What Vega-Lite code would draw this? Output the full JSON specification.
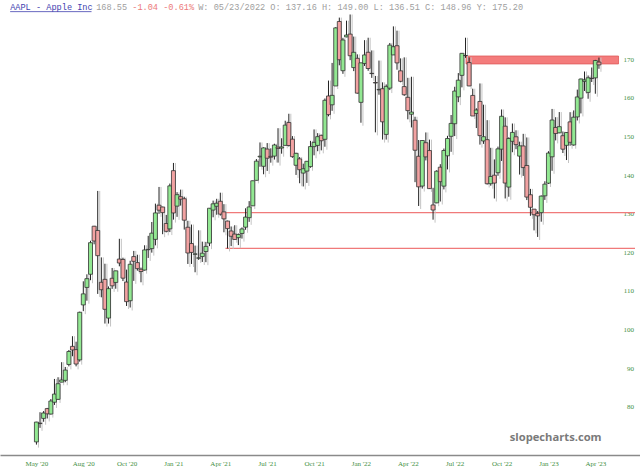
{
  "$schema": "https://vega.github.io/schema/vega-lite/v6.json",
  "width": 640,
  "height": 455,
  "autosize": "none",
  "padding": {"left": 0, "top": 0, "right": 0, "bottom": 15},
  "background": "white",
  "config": {"view": {"stroke": null}, "axis": {"grid": false}},
  "datasets": {
    "candles": [
      {"d":"2020-05-04","o":70.88,"h":76.08,"l":70.18,"c":76.02},
      {"d":"2020-05-11","o":75.74,"h":78.57,"l":74.52,"c":75.63},
      {"d":"2020-05-18","o":76.97,"h":78.87,"l":76.10,"c":78.37},
      {"d":"2020-05-25","o":79.51,"h":79.69,"l":76.95,"c":78.15},
      {"d":"2020-06-01","o":78.10,"h":81.99,"l":77.96,"c":81.48},
      {"d":"2020-06-08","o":81.16,"h":87.19,"l":80.45,"c":83.27},
      {"d":"2020-06-15","o":81.90,"h":87.63,"l":81.75,"c":85.95},
      {"d":"2020-06-22","o":86.36,"h":91.53,"l":86.34,"c":86.92},
      {"d":"2020-06-29","o":86.82,"h":90.29,"l":86.34,"c":89.49},
      {"d":"2020-07-06","o":90.94,"h":94.69,"l":90.45,"c":94.30},
      {"d":"2020-07-13","o":95.63,"h":98.26,"l":93.07,"c":94.70},
      {"d":"2020-07-20","o":94.79,"h":96.84,"l":90.45,"c":91.06},
      {"d":"2020-07-27","o":92.13,"h":104.62,"l":91.67,"c":104.46},
      {"d":"2020-08-03","o":106.37,"h":112.48,"l":104.75,"c":109.23},
      {"d":"2020-08-10","o":110.90,"h":114.29,"l":107.46,"c":113.17},
      {"d":"2020-08-17","o":114.31,"h":122.99,"l":112.77,"c":122.49},
      {"d":"2020-08-24","o":126.76,"h":126.85,"l":122.07,"c":122.93},
      {"d":"2020-08-31","o":125.65,"h":135.90,"l":109.22,"c":119.13},
      {"d":"2020-09-07","o":112.23,"h":118.68,"l":108.34,"c":110.31},
      {"d":"2020-09-14","o":112.99,"h":117.04,"l":101.54,"c":105.23},
      {"d":"2020-09-21","o":102.96,"h":111.16,"l":101.54,"c":110.58},
      {"d":"2020-09-28","o":113.27,"h":115.94,"l":110.53,"c":111.31},
      {"d":"2020-10-05","o":112.19,"h":115.23,"l":110.56,"c":115.20},
      {"d":"2020-10-12","o":118.25,"h":123.50,"l":116.37,"c":117.22},
      {"d":"2020-10-19","o":118.15,"h":118.60,"l":112.55,"c":113.30},
      {"d":"2020-10-26","o":112.29,"h":115.51,"l":106.09,"c":107.22},
      {"d":"2020-11-02","o":107.46,"h":117.81,"l":105.70,"c":116.90},
      {"d":"2020-11-09","o":118.89,"h":120.36,"l":112.60,"c":117.66},
      {"d":"2020-11-16","o":117.33,"h":119.37,"l":115.25,"c":115.77},
      {"d":"2020-11-23","o":115.61,"h":116.04,"l":112.23,"c":115.03},
      {"d":"2020-11-30","o":115.40,"h":121.82,"l":115.25,"c":120.61},
      {"d":"2020-12-07","o":120.67,"h":124.26,"l":118.54,"c":120.77},
      {"d":"2020-12-14","o":120.96,"h":127.85,"l":119.91,"c":124.96},
      {"d":"2020-12-21","o":123.35,"h":132.61,"l":121.80,"c":130.20},
      {"d":"2020-12-28","o":132.20,"h":136.93,"l":129.96,"c":130.91},
      {"d":"2021-01-04","o":131.73,"h":131.82,"l":124.69,"c":130.28},
      {"d":"2021-01-11","o":127.46,"h":129.69,"l":125.16,"c":125.44},
      {"d":"2021-01-18","o":126.07,"h":137.80,"l":125.24,"c":137.21},
      {"d":"2021-01-25","o":141.15,"h":143.15,"l":128.47,"c":130.19},
      {"d":"2021-02-01","o":131.96,"h":135.58,"l":129.18,"c":134.93},
      {"d":"2021-02-08","o":134.41,"h":136.24,"l":132.10,"c":133.76},
      {"d":"2021-02-15","o":133.88,"h":134.39,"l":125.89,"c":128.32},
      {"d":"2021-02-22","o":126.49,"h":128.17,"l":116.98,"c":119.82},
      {"d":"2021-03-01","o":122.27,"h":127.19,"l":116.98,"c":119.97},
      {"d":"2021-03-08","o":119.49,"h":121.74,"l":114.83,"c":119.59},
      {"d":"2021-03-15","o":118.47,"h":125.70,"l":118.03,"c":118.56},
      {"d":"2021-03-22","o":118.90,"h":122.76,"l":117.50,"c":119.77},
      {"d":"2021-03-29","o":120.20,"h":122.70,"l":117.44,"c":121.53},
      {"d":"2021-04-05","o":122.39,"h":131.46,"l":121.60,"c":131.42},
      {"d":"2021-04-12","o":130.94,"h":133.39,"l":129.07,"c":132.56},
      {"d":"2021-04-19","o":131.92,"h":133.86,"l":129.73,"c":132.72},
      {"d":"2021-04-26","o":133.22,"h":135.44,"l":129.51,"c":129.89},
      {"d":"2021-05-03","o":130.47,"h":132.47,"l":125.19,"c":128.66},
      {"d":"2021-05-10","o":128.09,"h":128.21,"l":121.00,"c":126.14},
      {"d":"2021-05-17","o":125.52,"h":126.69,"l":121.60,"c":124.15},
      {"d":"2021-05-24","o":124.72,"h":127.01,"l":123.27,"c":123.33},
      {"d":"2021-05-31","o":123.80,"h":124.87,"l":121.87,"c":124.60},
      {"d":"2021-06-07","o":124.88,"h":126.44,"l":123.55,"c":126.05},
      {"d":"2021-06-14","o":126.51,"h":131.40,"l":125.83,"c":129.12},
      {"d":"2021-06-21","o":128.97,"h":133.26,"l":127.89,"c":131.75},
      {"d":"2021-06-28","o":132.04,"h":138.57,"l":131.98,"c":138.53},
      {"d":"2021-07-05","o":138.64,"h":144.16,"l":138.64,"c":143.62},
      {"d":"2021-07-12","o":144.71,"h":148.46,"l":142.16,"c":144.89},
      {"d":"2021-07-19","o":142.28,"h":147.20,"l":140.22,"c":147.04},
      {"d":"2021-07-26","o":146.75,"h":148.30,"l":141.08,"c":144.37},
      {"d":"2021-08-02","o":144.86,"h":146.93,"l":143.22,"c":144.64},
      {"d":"2021-08-09","o":144.92,"h":148.13,"l":144.03,"c":147.80},
      {"d":"2021-08-16","o":147.24,"h":152.15,"l":143.24,"c":146.90},
      {"d":"2021-08-23","o":147.01,"h":149.54,"l":145.55,"c":147.30},
      {"d":"2021-08-30","o":147.70,"h":154.09,"l":147.70,"c":152.95},
      {"d":"2021-09-06","o":153.62,"h":155.89,"l":147.40,"c":147.67},
      {"d":"2021-09-13","o":149.31,"h":150.10,"l":144.49,"c":144.78},
      {"d":"2021-09-20","o":142.54,"h":145.79,"l":140.04,"c":145.64},
      {"d":"2021-09-27","o":144.20,"h":144.68,"l":137.89,"c":141.40},
      {"d":"2021-10-04","o":140.52,"h":142.96,"l":137.06,"c":141.65},
      {"d":"2021-10-11","o":141.03,"h":143.63,"l":137.98,"c":143.58},
      {"d":"2021-10-18","o":142.20,"h":148.87,"l":141.91,"c":147.39},
      {"d":"2021-10-25","o":147.38,"h":151.83,"l":145.13,"c":148.49},
      {"d":"2021-11-01","o":147.69,"h":150.87,"l":146.19,"c":149.96},
      {"d":"2021-11-08","o":150.31,"h":150.46,"l":146.41,"c":148.90},
      {"d":"2021-11-15","o":149.27,"h":159.85,"l":147.35,"c":159.38},
      {"d":"2021-11-22","o":160.50,"h":164.49,"l":155.22,"c":155.67},
      {"d":"2021-11-29","o":158.21,"h":169.06,"l":156.65,"c":160.66},
      {"d":"2021-12-06","o":163.09,"h":178.32,"l":163.08,"c":178.14},
      {"d":"2021-12-13","o":179.80,"h":180.80,"l":168.45,"c":169.89},
      {"d":"2021-12-20","o":167.05,"h":175.56,"l":166.24,"c":175.00},
      {"d":"2021-12-27","o":175.80,"h":180.01,"l":175.71,"c":176.28},
      {"d":"2022-01-03","o":176.53,"h":181.61,"l":169.78,"c":170.92},
      {"d":"2022-01-10","o":167.85,"h":175.89,"l":166.94,"c":171.81},
      {"d":"2022-01-17","o":170.26,"h":171.28,"l":161.12,"c":161.23},
      {"d":"2022-01-24","o":158.85,"h":169.11,"l":153.57,"c":169.09},
      {"d":"2022-01-31","o":168.92,"h":174.96,"l":168.27,"c":171.13},
      {"d":"2022-02-07","o":171.82,"h":175.59,"l":167.03,"c":167.62},
      {"d":"2022-02-14","o":166.36,"h":172.30,"l":165.19,"c":166.29},
      {"d":"2022-02-21","o":163.99,"h":165.69,"l":151.08,"c":163.86},
      {"d":"2022-02-28","o":162.08,"h":169.67,"l":160.82,"c":162.19},
      {"d":"2022-03-07","o":162.38,"h":164.03,"l":149.20,"c":153.80},
      {"d":"2022-03-14","o":150.54,"h":163.49,"l":149.20,"c":162.99},
      {"d":"2022-03-21","o":162.53,"h":174.23,"l":162.03,"c":173.67},
      {"d":"2022-03-28","o":171.13,"h":178.53,"l":171.13,"c":173.26},
      {"d":"2022-04-04","o":173.52,"h":177.42,"l":167.30,"c":169.07},
      {"d":"2022-04-11","o":167.01,"h":170.24,"l":164.05,"c":164.30},
      {"d":"2022-04-18","o":162.93,"h":170.50,"l":160.53,"c":160.82},
      {"d":"2022-04-25","o":160.15,"h":165.20,"l":154.45,"c":156.70},
      {"d":"2022-05-02","o":155.77,"h":165.48,"l":152.35,"c":156.33},
      {"d":"2022-05-09","o":154.22,"h":155.12,"l":138.17,"c":146.44},
      {"d":"2022-05-16","o":144.88,"h":149.09,"l":132.00,"c":136.96},
      {"d":"2022-05-23","o":137.16,"h":149.00,"l":136.51,"c":148.96},
      {"d":"2022-05-30","o":148.39,"h":151.05,"l":143.80,"c":144.72},
      {"d":"2022-06-06","o":146.36,"h":149.19,"l":136.43,"c":136.50},
      {"d":"2022-06-13","o":132.26,"h":136.71,"l":128.45,"c":130.96},
      {"d":"2022-06-20","o":132.81,"h":141.26,"l":132.71,"c":141.01},
      {"d":"2022-06-27","o":142.05,"h":142.83,"l":133.16,"c":138.30},
      {"d":"2022-07-04","o":137.14,"h":146.88,"l":136.30,"c":146.37},
      {"d":"2022-07-11","o":145.00,"h":150.17,"l":141.47,"c":149.48},
      {"d":"2022-07-18","o":150.05,"h":155.57,"l":146.03,"c":153.39},
      {"d":"2022-07-25","o":153.31,"h":162.88,"l":150.11,"c":161.77},
      {"d":"2022-08-01","o":160.27,"h":166.43,"l":158.90,"c":164.59},
      {"d":"2022-08-08","o":165.84,"h":171.62,"l":162.73,"c":171.55},
      {"d":"2022-08-15","o":170.97,"h":175.59,"l":170.37,"c":170.97},
      {"d":"2022-08-22","o":169.15,"h":170.51,"l":163.04,"c":163.10},
      {"d":"2022-08-29","o":160.64,"h":162.38,"l":155.31,"c":155.31},
      {"d":"2022-09-05","o":155.97,"h":157.32,"l":152.19,"c":156.87},
      {"d":"2022-09-12","o":159.08,"h":163.74,"l":147.90,"c":150.22},
      {"d":"2022-09-19","o":148.84,"h":158.24,"l":148.09,"c":149.95},
      {"d":"2022-09-26","o":149.18,"h":154.23,"l":137.56,"c":137.76},
      {"d":"2022-10-03","o":137.77,"h":147.07,"l":137.25,"c":139.64},
      {"d":"2022-10-10","o":139.97,"h":144.06,"l":133.94,"c":137.94},
      {"d":"2022-10-17","o":140.62,"h":147.38,"l":139.82,"c":146.80},
      {"d":"2022-10-24","o":146.72,"h":157.00,"l":143.67,"c":155.24},
      {"d":"2022-10-31","o":152.67,"h":154.96,"l":133.95,"c":137.94},
      {"d":"2022-11-07","o":136.90,"h":149.79,"l":134.39,"c":149.48},
      {"d":"2022-11-14","o":148.75,"h":153.36,"l":145.93,"c":151.06},
      {"d":"2022-11-21","o":149.93,"h":151.60,"l":146.71,"c":147.89},
      {"d":"2022-11-28","o":144.92,"h":148.66,"l":140.14,"c":147.59},
      {"d":"2022-12-05","o":147.55,"h":150.69,"l":139.79,"c":141.95},
      {"d":"2022-12-12","o":142.49,"h":149.75,"l":133.53,"c":134.31},
      {"d":"2022-12-19","o":134.91,"h":136.43,"l":129.45,"c":131.66},
      {"d":"2022-12-26","o":131.18,"h":131.21,"l":125.68,"c":129.74},
      {"d":"2023-01-02","o":130.08,"h":130.70,"l":123.98,"c":129.43},
      {"d":"2023-01-09","o":130.27,"h":134.72,"l":127.93,"c":134.56},
      {"d":"2023-01-16","o":134.63,"h":138.40,"l":133.57,"c":137.66},
      {"d":"2023-01-23","o":137.91,"h":146.19,"l":137.69,"c":145.71},
      {"d":"2023-01-30","o":144.74,"h":157.14,"l":141.11,"c":154.27},
      {"d":"2023-02-06","o":152.34,"h":155.00,"l":148.99,"c":150.78},
      {"d":"2023-02-13","o":150.95,"h":156.33,"l":150.85,"c":152.55},
      {"d":"2023-02-20","o":150.20,"h":151.30,"l":145.72,"c":146.71},
      {"d":"2023-02-27","o":147.71,"h":151.11,"l":143.90,"c":151.03},
      {"d":"2023-03-06","o":153.79,"h":156.30,"l":147.61,"c":148.50},
      {"d":"2023-03-13","o":147.81,"h":156.75,"l":147.61,"c":155.00},
      {"d":"2023-03-20","o":155.07,"h":162.14,"l":154.15,"c":160.25},
      {"d":"2023-03-27","o":159.94,"h":165.00,"l":155.98,"c":164.90},
      {"d":"2023-04-03","o":164.27,"h":166.84,"l":161.80,"c":164.66},
      {"d":"2023-04-10","o":161.42,"h":165.80,"l":159.78,"c":165.21},
      {"d":"2023-04-17","o":165.09,"h":167.87,"l":164.12,"c":165.02},
      {"d":"2023-04-24","o":165.19,"h":169.85,"l":161.08,"c":169.68},
      {"d":"2023-05-01","o":169.28,"h":170.45,"l":167.54,"c":168.55}
    ],
    "levels": [
      {"d":"2021-05-06","d2":"2023-07-10","p":130.3},
      {"d":"2021-05-06","d2":"2023-07-10","p":121.0}
    ],
    "zone": [
      {"d":"2022-08-16","d2":"2023-06-08","p1":168.8,"p2":170.85}
    ],
    "texts": [
      {"t":"AAPL - Apple Inc","d":"2020-03-14","p":183.55,"k":"name"},
      {"t":"168.55","d":"2020-08-28","p":183.55,"k":"last"},
      {"t":"-1.04 -0.61%","d":"2020-11-06","p":183.55,"k":"chg"},
      {"t":"W: 05/23/2022 O: 137.16 H: 149.00 L: 136.51 C: 148.96 Y: 175.20","d":"2021-03-14","p":183.55,"k":"info"}
    ],
    "underline": [
      {"d":"2020-03-14","d2":"2020-08-19","p":182.35}
    ],
    "mark": [
      {"t":"slopecharts.com","d":"2023-02-06","p":71.9}
    ]
  },
  "data": {"name": "candles"},
  "layer": [
    {
      "data": {"name": "zone"},
      "mark": {"type": "rect", "fill": "#f47c7c", "stroke": "#e05a5a", "strokeWidth": 0.8},
      "encoding": {
        "x": {"field": "d", "type": "temporal", "title": null},
        "x2": {"field": "d2"},
        "y": {"field": "p1", "type": "quantitative", "title": null},
        "y2": {"field": "p2"}
      }
    },
    {
      "data": {"name": "levels"},
      "mark": {"type": "rule", "color": "#f07a7a", "strokeWidth": 1.2},
      "encoding": {
        "x": {"field": "d", "type": "temporal", "title": null},
        "x2": {"field": "d2"},
        "y": {"field": "p", "type": "quantitative", "title": null}
      }
    },
    {
      "mark": {"type": "rule", "color": "#c4c4c4", "strokeWidth": 1, "xOffset": 2, "yOffset": 3},
      "encoding": {
        "x": {"field": "d", "type": "temporal", "title": null},
        "y": {"field": "l", "type": "quantitative", "title": null},
        "y2": {"field": "h"}
      }
    },
    {
      "mark": {"type": "rule", "color": "#222222", "strokeWidth": 1},
      "encoding": {
        "x": {"field": "d", "type": "temporal", "title": null},
        "y": {"field": "l", "type": "quantitative", "title": null},
        "y2": {"field": "h"}
      }
    },
    {
      "mark": {"type": "bar", "width": 4, "stroke": "#333333", "strokeWidth": 0.8},
      "encoding": {
        "x": {
          "field": "d", "type": "temporal", "title": null,
          "scale": {"type": "utc", "domain": [{"year": 2020, "month": 3, "date": 4, "utc": true}, {"year": 2023, "month": 7, "date": 10, "utc": true}]},
          "axis": {
            "values": [
              {"year": 2020, "month": 5, "date": 4, "utc": true},
              {"year": 2020, "month": 8, "date": 3, "utc": true},
              {"year": 2020, "month": 10, "date": 26, "utc": true},
              {"year": 2021, "month": 1, "date": 25, "utc": true},
              {"year": 2021, "month": 4, "date": 26, "utc": true},
              {"year": 2021, "month": 7, "date": 26, "utc": true},
              {"year": 2021, "month": 10, "date": 25, "utc": true},
              {"year": 2022, "month": 1, "date": 24, "utc": true},
              {"year": 2022, "month": 4, "date": 25, "utc": true},
              {"year": 2022, "month": 7, "date": 25, "utc": true},
              {"year": 2022, "month": 10, "date": 24, "utc": true},
              {"year": 2023, "month": 1, "date": 23, "utc": true},
              {"year": 2023, "month": 4, "date": 24, "utc": true}
            ],
            "format": "%b '%y",
            "labelFont": "Liberation Serif",
            "labelFontSize": 7,
            "labelColor": "#3f8f3f",
            "labelPadding": 4,
            "ticks": false,
            "domainColor": "#8a8a8a",
            "domainWidth": 1.5,
            "labelFlush": false
          }
        },
        "y": {
          "field": "o", "type": "quantitative", "title": null,
          "scale": {"domain": [67.487, 185.363], "nice": false, "zero": false},
          "axis": {
            "orient": "right",
            "values": [80, 90, 100, 110, 120, 130, 140, 150, 160, 170],
            "offset": -22,
            "domain": false,
            "ticks": false,
            "tickSize": 0,
            "labelPadding": 15.5,
            "labelAlign": "right",
            "labelFont": "Liberation Serif",
            "labelFontSize": 7,
            "labelColor": "#3f8f3f"
          }
        },
        "y2": {"field": "c"},
        "fill": {"condition": {"test": "datum.c >= datum.o", "value": "#92e892"}, "value": "#f2a2a2"}
      }
    },
    {
      "data": {"name": "texts"},
      "mark": {"type": "text", "align": "left", "baseline": "middle", "font": "Liberation Mono", "fontSize": 8.6},
      "encoding": {
        "x": {"field": "d", "type": "temporal", "title": null},
        "y": {"field": "p", "type": "quantitative", "title": null},
        "text": {"field": "t"},
        "color": {
          "field": "k", "type": "nominal", "legend": null,
          "scale": {"domain": ["name", "last", "chg", "info"], "range": ["#4343b0", "#a0a0a0", "#ec7a7a", "#a0a0a0"]}
        }
      }
    },
    {
      "data": {"name": "underline"},
      "mark": {"type": "rule", "color": "#4343b0", "strokeWidth": 0.8},
      "encoding": {
        "x": {"field": "d", "type": "temporal", "title": null},
        "x2": {"field": "d2"},
        "y": {"field": "p", "type": "quantitative", "title": null}
      }
    },
    {
      "data": {"name": "mark"},
      "mark": {"type": "text", "align": "center", "baseline": "middle", "font": "Open Sans", "fontWeight": "bold", "fontSize": 11.2, "color": "#7a7a7a"},
      "encoding": {
        "x": {"field": "d", "type": "temporal", "title": null},
        "y": {"field": "p", "type": "quantitative", "title": null},
        "text": {"field": "t"}
      }
    }
  ]
}
